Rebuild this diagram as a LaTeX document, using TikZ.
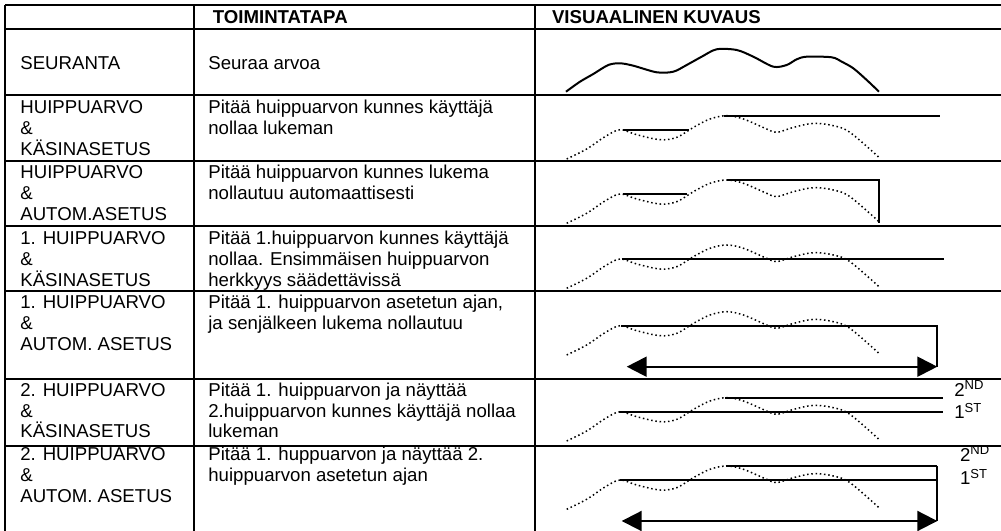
\documentclass[tikz,border=0pt]{standalone}
\usepackage{fontspec}
\setmainfont{Liberation Sans}
\usetikzlibrary{arrows.meta}

\newcommand{\aalto}[1]{\draw[#1] plot[smooth, tension=0.55] coordinates {(0,0) (20,-10) (38.3,-22.3) (53.3,-29.3) (70,-24.3) (93.3,-19.3) (110,-21.6) (126.7,-31.6) (143.3,-40) (160,-43.3) (176.7,-40) (200,-30) (210,-26.6) (226.7,-31.6) (246.7,-35.6) (266.7,-33.3) (283.3,-26.6) (312.3,-1.6)};}

\begin{document}
\begin{tikzpicture}[x=0.2mm, y=-0.2mm,
    every node/.style={inner sep=0pt, anchor=base west, align=left, font=\fontsize{10.6pt}{11.9pt}\selectfont},
    taulu/.style={line width=0.4mm},
    pisteet/.style={line width=0.3mm, dash pattern=on 0.3mm off 0.55mm},
    pito/.style={line width=0.35mm},
    aika/.style={{Triangle[length=4mm,width=4mm]}-{Triangle[length=4mm,width=4mm]}, line width=0.4mm}]
  \useasboundingbox (0,0) rectangle (1001,531);
  \foreach \y in {5,29,95,161,226,291,379,446}
    \draw[taulu] (5,\y) -- (1001,\y);
  \foreach \x in {5,194,535}
    \draw[taulu] (\x,5) -- (\x,531);

  % base of a multi-line node = its last line
  \node[font=\fontsize{10.6pt}{11.9pt}\bfseries] (h2) at (212.5,24) {TOIMINTATAPA};
  \node[font=\fontsize{10.6pt}{11.9pt}\bfseries] (h3) at (551.7,24) {VISUAALINEN KUVAUS};

  \node (m1) at (20,70) {SEURANTA};
  \node (m2) at (20,155.3) {HUIPPUARVO\\\&\\KÄSINASETUS};
  \node (m3) at (20,220.3) {HUIPPUARVO\\\&\\AUTOM.ASETUS};
  \node (m4) at (20,286.5) {1. HUIPPUARVO\\\&\\KÄSINASETUS};
  \node (m5) at (20,350.3) {1. HUIPPUARVO\\\&\\AUTOM. ASETUS};
  \node (m6) at (20,438) {2. HUIPPUARVO\\\&\\KÄSINASETUS};
  \node (m7) at (20,502.5) {2. HUIPPUARVO\\\&\\AUTOM. ASETUS};

  \node (t1) at (208,70) {Seuraa arvoa};
  \node (t2) at (208,134.3) {Pitää huippuarvon kunnes käyttäjä\\nollaa lukeman};
  \node (t3) at (208,199.3) {Pitää huippuarvon kunnes lukema\\nollautuu automaattisesti};
  \node (t4) at (208,286.5) {Pitää 1.huippuarvon kunnes käyttäjä\\nollaa. Ensimmäisen huippuarvon\\herkkyys säädettävissä};
  \node (t5) at (208,329.3) {Pitää 1. huippuarvon asetetun ajan,\\ja senjälkeen lukema nollautuu};
  \node (t6) at (208,438) {Pitää 1. huippuarvon ja näyttää\\2.huippuarvon kunnes käyttäjä nollaa\\lukeman};
  \node (t7) at (208,481.5) {Pitää 1. huppuarvon ja näyttää 2.\\huippuarvon asetetun ajan};

  \draw[line width=0.4mm] plot[smooth, tension=0.5] coordinates {(566,91.7) (580,81.7) (593.3,74) (608.3,65) (620,63.3) (633.3,65.7) (656.7,72.3) (673.3,71.7) (686.7,65) (701.7,56.7) (716.7,49.3) (736.7,50) (753.3,56.7) (773.3,66.7) (786.7,65) (796.7,59.3) (806.7,56.7) (831.7,57.3) (841.7,61.7) (853.3,68.3) (866.7,80) (879,91.7)};

  \begin{scope}[shift={(566.7,159)}]
    \aalto{pisteet}
    \draw[pito] (56,-29.3) -- (122,-29.3);
    \draw[pito] (157,-43.3) -- (373.3,-43.3);
  \end{scope}
  \begin{scope}[shift={(566.7,223.3)}]
    \aalto{pisteet}
    \draw[pito] (56.6,-29.3) -- (120,-29.3);
    \draw[pito] (160,-43.3) -- (312.6,-43.3) -- (312.6,0);
  \end{scope}
  \begin{scope}[shift={(566.7,288.3)}]
    \aalto{pisteet}
    \draw[pito] (55,-29.3) -- (377.3,-29.3);
  \end{scope}
  \begin{scope}[shift={(566.7,355)}]
    \aalto{pisteet}
    \draw[pito] (54.3,-29.3) -- (370.6,-29.3) -- (370.6,11.7);
    \coordinate (a5) at (370.6,11.7);
    \coordinate (b5) at (60,11.7);
    \draw[aika] (b5) -- (a5);
  \end{scope}
  \begin{scope}[shift={(566.7,441)}]
    \aalto{pisteet}
    \draw[pito] (158.3,-43.3) -- (376,-43.3);
    \draw[pito] (52.6,-29.3) -- (376,-29.3);
    \node (n6) at (387.3,-44.3) {2\textsuperscript{ND}};
    \node (s6) at (387.3,-22) {1\textsuperscript{ST}};
  \end{scope}
  \begin{scope}[shift={(566.7,509.3)}]
    \aalto{pisteet}
    \draw[pito] (159,-43.3) -- (370.6,-43.3);
    \draw[pito] (53.3,-29.3) -- (370.6,-29.3);
    \draw[pito] (370.6,-43.3) -- (370.6,11.7);
    \node (n7) at (393,-47.6) {2\textsuperscript{ND}};
    \node (s7) at (393,-24.3) {1\textsuperscript{ST}};
    \coordinate (a7) at (370.6,11.7);
    \coordinate (b7) at (55,11.7);
    \draw[aika] (b7) -- (a7);
  \end{scope}
\end{tikzpicture}
\end{document}
